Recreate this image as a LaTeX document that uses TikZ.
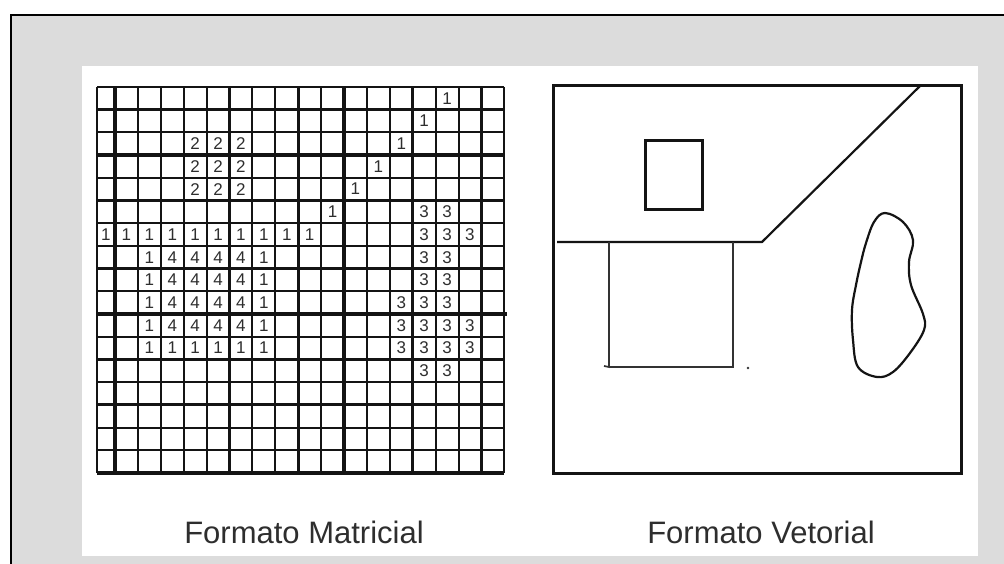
\documentclass[tikz,border=0pt]{standalone}
\usepackage{fontspec}
\setmainfont{Liberation Sans}
\definecolor{framegray}{HTML}{DCDCDC}
\definecolor{inkgray}{HTML}{2E2E2E}

\begin{document}
\begin{tikzpicture}[
x=1pt, y=-1pt,
gridthin/.style={line width=2pt, black!92},
gridthick/.style={line width=3.3pt, black!92},
digit/.style={font=\fontsize{17}{17}\selectfont, text=inkgray, inner sep=0pt},
caption/.style={font=\fontsize{31}{31}\selectfont, text=inkgray, anchor=base},
vecthick/.style={line width=3pt, black!92},
vecmid/.style={line width=2.2pt, black!92, line join=round},
vecthin/.style={line width=1.7pt, black!80}
]
\useasboundingbox (0,0) rectangle (1004,564);
% frame and panel
\fill[framegray] (11,15) rectangle (1004,564);
\draw[line width=2pt] (11,564) -- (11,15) -- (1004,15);
\fill[white] (82,66) rectangle (978,556);

% raster grid
\foreach \j in {0,...,17} {
  \pgfmathsetmacro\yy{87+\j*22.7}
  \draw[gridthin] (97,\yy) -- (504,\yy);
}
\foreach \j in {1,3,5,8,12,14,17} {
  \pgfmathsetmacro\yy{87+\j*22.7}
  \draw[gridthick] (97,\yy) -- (504,\yy);
}
\draw[gridthick] (97,314) -- (507,314);
\draw[gridthin] (97,87) -- (97,473);
\foreach \k in {1,...,18} {
  \pgfmathsetmacro\xx{115+(\k-1)*22.9}
  \draw[gridthin] (\xx,87) -- (\xx,473);
}
\foreach \k in {1,6,9,11,14,17} {
  \pgfmathsetmacro\xx{115+(\k-1)*22.9}
  \draw[gridthick] (\xx,87) -- (\xx,473);
}

% cell values
\begin{scope}[shift={(103.55,98.35)}, x=22.9pt, y=-22.7pt]
\foreach \c/\r in {15/0,14/1,13/2,12/3,11/4,10/5}
  \node[digit] (n-\c-\r) at (\c,\r) {1};
\foreach \r in {2,3,4}
  \foreach \c in {4,5,6}
    \node[digit] (n-\c-\r) at (\c,\r) {2};
\node[digit] (n-0-6) at (0.1,6) {1};
\foreach \c in {1,...,9}
  \node[digit] (n-\c-6) at (\c,6) {1};
\foreach \r in {7,...,10} {
  \node[digit] (n-2-\r) at (2,\r) {1};
  \foreach \c in {3,...,6}
    \node[digit] (n-\c-\r) at (\c,\r) {4};
  \node[digit] (n-7-\r) at (7,\r) {1};
}
\foreach \c in {2,...,7}
  \node[digit] (n-\c-11) at (\c,11) {1};
\foreach \c/\r in {14/5,15/5,14/6,15/6,16/6,14/7,15/7,14/8,15/8,
    13/9,14/9,15/9,13/10,14/10,15/10,16/10,13/11,14/11,15/11,16/11,14/12,15/12}
  \node[digit] (n-\c-\r) at (\c,\r) {3};
\end{scope}

% vector drawing
\draw[vecthick] (553,86) rectangle (961,473);
\draw[vecthick] (645,141) rectangle (702,210);
\draw[vecmid] (557,242) -- (762,242) -- (921,85);
\draw[vecthin] (604,366) -- (609,367) -- (609,242);
\draw[vecthin] (609,367) -- (733,367) -- (733,242);
\fill[black!80] (748,368) circle (1.3);
\draw[vecmid] plot[smooth cycle, tension=0.6] coordinates {
  (885,213) (903,222) (913,240) (909,262) (911,285) (923,314) (924,330)
  (910,353) (893,372) (877,377) (858,367) (853,340) (852,310) (856,285)
  (861,262) (866,243) (874,222)};

% captions
\node[caption] (matricial) at (304,543) {Formato Matricial};
\node[caption] (vetorial) at (761,543) {Formato Vetorial};
\end{tikzpicture}
\end{document}
